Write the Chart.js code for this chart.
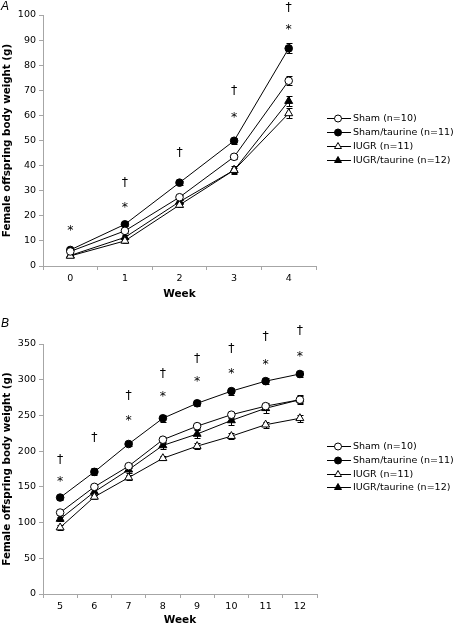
<!DOCTYPE html>
<html>
<head>
<meta charset="utf-8">
<script src="https://cdn.jsdelivr.net/npm/chart.js@4.4.1/dist/chart.umd.min.js"></script>
<style>
  html, body { margin: 0; padding: 0; background: #fff; }
  #wrap { position: relative; width: 454px; height: 626px; }
  canvas { position: absolute; left: 0; }
  .panel { position: absolute; left: 1px; font: italic 12px "Liberation Sans", sans-serif; color: #000; }
</style>
</head>
<body>
<div id="wrap">
  <canvas id="chartA" width="454" height="300" style="top:0"></canvas>
  <canvas id="chartB" width="454" height="326" style="top:300px"></canvas>
  <div class="panel" style="top:-1px">A</div>
  <div class="panel" style="top:316px">B</div>
</div>
<script>
// series shared by both panels
const seriesLabels = ['Sham (n=10)', 'Sham/taurine (n=11)', 'IUGR (n=11)', 'IUGR/taurine (n=12)'];
const pointStyles = ['circle', 'circle', 'triangle', 'triangle'];
const pointFills = ['#fff', '#000', '#fff', '#000'];

// Panel A - weeks 0 to 4
const weeksA = ['0', '1', '2', '3', '4'];
const shamA = [5.8, 14, 27.4, 43.5, 73.8];
const shamTaurineA = [6.4, 16.6, 33.2, 49.9, 86.7];
const iugrA = [4, 10, 24.3, 38.2, 60.8];
const iugrTaurineA = [4.2, 11.4, 25.6, 38.2, 65.7];
const shamErrA = [0.5, 1, 1, 1, 1.8];
const shamTaurineErrA = [0.5, 0.8, 0.8, 1.2, 2];
const iugrErrA = [0.3, 0.7, 0.8, 1, 2];
const iugrTaurineErrA = [0.3, 0.8, 0.8, 1.5, 2];
const starsA = [15, 24.3, null, 60, 95.3];
const daggersA = [null, 33.6, 45.5, 70, 103.3];
const yTicksA = { min: 0, max: 100, step: 10 };

// Panel B - weeks 5 to 12
const weeksB = ['5', '6', '7', '8', '9', '10', '11', '12'];
const shamB = [114, 150, 179, 216, 235, 251, 263, 272];
const shamTaurineB = [135, 171, 210, 246, 267, 284, 298, 308];
const iugrB = [93, 136, 163, 190, 207, 221, 237, 246];
const iugrTaurineB = [105, 143, 174, 208, 224, 243, 260, 272];
const shamErrB = [3, 3, 3, 4, 4, 4, 5, 5];
const shamTaurineErrB = [3, 5, 3, 5, 4, 5, 4, 4];
const iugrErrB = [3, 3, 3, 3, 4, 4, 4, 5];
const iugrTaurineErrB = [3, 4, 4, 5, 5, 6, 6, 6];
const starsB = [161, null, 247, 280, 301, 312.6, 325, 335.6];
const daggersB = [188.5, 220, 278.6, 309.8, 330, 344.8, 361.6, 369.6];
const yTicksB = { min: 0, max: 350, step: 50 };

Chart.defaults.font.family = '"DejaVu Sans", Verdana, sans-serif';
Chart.defaults.font.size = 9.5;
Chart.defaults.color = '#000';

// error bars go under the markers
const errorBarPlugin = {
    id: 'errorBars',
    beforeDatasetsDraw(chart) {
        const { ctx, scales: { y } } = chart;
        ctx.save();
        ctx.strokeStyle = '#000';
        ctx.lineWidth = 1;
        chart.data.datasets.forEach((ds, i) => {
            chart.getDatasetMeta(i).data.forEach((pt, j) => {
                const e = ds.errors[j];
                if (!e) return;
                const top = Math.round(y.getPixelForValue(ds.data[j] + e)) + 0.5;
                const bot = Math.round(y.getPixelForValue(ds.data[j] - e)) + 0.5;
                const x = Math.round(pt.x) + 0.5;
                ctx.beginPath();
                ctx.moveTo(x, top); ctx.lineTo(x, bot);
                ctx.moveTo(x - 3, top); ctx.lineTo(x + 3, top);
                ctx.moveTo(x - 3, bot); ctx.lineTo(x + 3, bot);
                ctx.stroke();
            });
        });
        ctx.restore();
    }
};

// * and dagger significance marks, centred on their value
const sigMarksPlugin = {
    id: 'sigMarks',
    afterDatasetsDraw(chart, args, opts) {
        const { ctx, scales: { x, y } } = chart;
        ctx.save();
        ctx.fillStyle = '#000';
        ctx.font = '12.5px "DejaVu Sans"';
        ctx.textAlign = 'center';
        ctx.textBaseline = 'alphabetic';
        const put = (sym, vals) => vals.forEach((v, i) => {
            if (v == null) return;
            const m = ctx.measureText(sym);
            const yc = y.getPixelForValue(v);
            ctx.fillText(sym, x.getPixelForValue(i), yc + (m.actualBoundingBoxAscent - m.actualBoundingBoxDescent) / 2);
        });
        put('*', opts.stars);
        put('\u2020', opts.daggers);
        ctx.restore();
    }
};

// legend with a short line through the marker, like the original
const lineLegendPlugin = {
    id: 'lineLegend',
    afterDraw(chart, args, opts) {
        const ctx = chart.ctx;
        ctx.save();
        ctx.font = '9.5px "DejaVu Sans"';
        ctx.textBaseline = 'middle';
        chart.data.datasets.forEach((ds, i) => {
            const yy = Math.round(opts.top + i * opts.step);
            ctx.strokeStyle = '#000';
            ctx.lineWidth = 1;
            ctx.beginPath();
            ctx.moveTo(opts.left, yy + 0.5);
            ctx.lineTo(opts.left + 24, yy + 0.5);
            ctx.stroke();
            ctx.fillStyle = ds.pointBackgroundColor;
            Chart.helpers.drawPoint(ctx, {
                pointStyle: ds.pointStyle,
                radius: ds.pointStyle === 'triangle' ? 4 : 3.5,
                rotation: 0,
                borderWidth: 1
            }, opts.left + 11, yy + 0.5);
            ctx.fillStyle = '#000';
            ctx.fillText(ds.label, opts.left + 26, yy + 1);
        });
        ctx.restore();
    }
};

function buildDatasets(values, errors) {
    return values.map((v, i) => ({
        label: seriesLabels[i],
        data: v,
        errors: errors[i],
        borderColor: '#000',
        borderWidth: 1,
        pointStyle: pointStyles[i],
        pointRadius: pointStyles[i] === 'triangle' ? 4.6 : 3.8,
        pointBackgroundColor: pointFills[i],
        pointBorderColor: '#000',
        pointBorderWidth: 1,
        tension: 0,
        clip: false
    }));
}

function makePanel(id, p) {
    return new Chart(document.getElementById(id), {
        type: 'line',
        data: { labels: p.labels, datasets: buildDatasets(p.values, p.errors) },
        plugins: [errorBarPlugin, sigMarksPlugin, lineLegendPlugin],
        options: {
            responsive: false,
            animation: false,
            layout: { padding: { top: p.top, right: p.right, left: 0, bottom: 0 } },
            plugins: {
                legend: { display: false },
                tooltip: { enabled: false },
                sigMarks: { stars: p.stars, daggers: p.daggers },
                lineLegend: p.legend
            },
            scales: {
                x: {
                    type: 'category',
                    offset: true,
                    afterFit: s => { s.height = p.xHeight; },
                    grid: { offset: true, drawOnChartArea: false, tickLength: 4, color: '#a6a6a6' },
                    border: { color: '#a6a6a6' },
                    ticks: { padding: 3 },
                    title: {
                        display: true, text: 'Week',
                        font: { size: 10.5, weight: 'bold', lineHeight: 1 },
                        padding: { top: 0, bottom: 0 }
                    }
                },
                y: {
                    min: p.yTicks.min,
                    max: p.yTicks.max,
                    afterFit: s => { s.width = 43; },
                    grid: { drawOnChartArea: false, tickLength: 4, color: '#a6a6a6' },
                    border: { color: '#a6a6a6' },
                    ticks: { stepSize: p.yTicks.step, padding: 3 },
                    title: {
                        display: true, text: 'Female offspring body weight (g)',
                        font: { size: 10.3, weight: 'bold', lineHeight: 1 },
                        padding: { top: 2, bottom: 0 }
                    }
                }
            }
        }
    });
}

makePanel('chartA', {
    labels: weeksA,
    values: [shamA, shamTaurineA, iugrA, iugrTaurineA],
    errors: [shamErrA, shamTaurineErrA, iugrErrA, iugrTaurineErrA],
    stars: starsA, daggers: daggersA, yTicks: yTicksA,
    top: 15, right: 138, xHeight: 34,
    legend: { left: 327, top: 118, step: 14 }
});

makePanel('chartB', {
    labels: weeksB,
    values: [shamB, shamTaurineB, iugrB, iugrTaurineB],
    errors: [shamErrB, shamTaurineErrB, iugrErrB, iugrTaurineErrB],
    stars: starsB, daggers: daggersB, yTicks: yTicksB,
    top: 44, right: 137, xHeight: 32,
    legend: { left: 327, top: 146, step: 13.8 }
});
</script>
</body>
</html>
